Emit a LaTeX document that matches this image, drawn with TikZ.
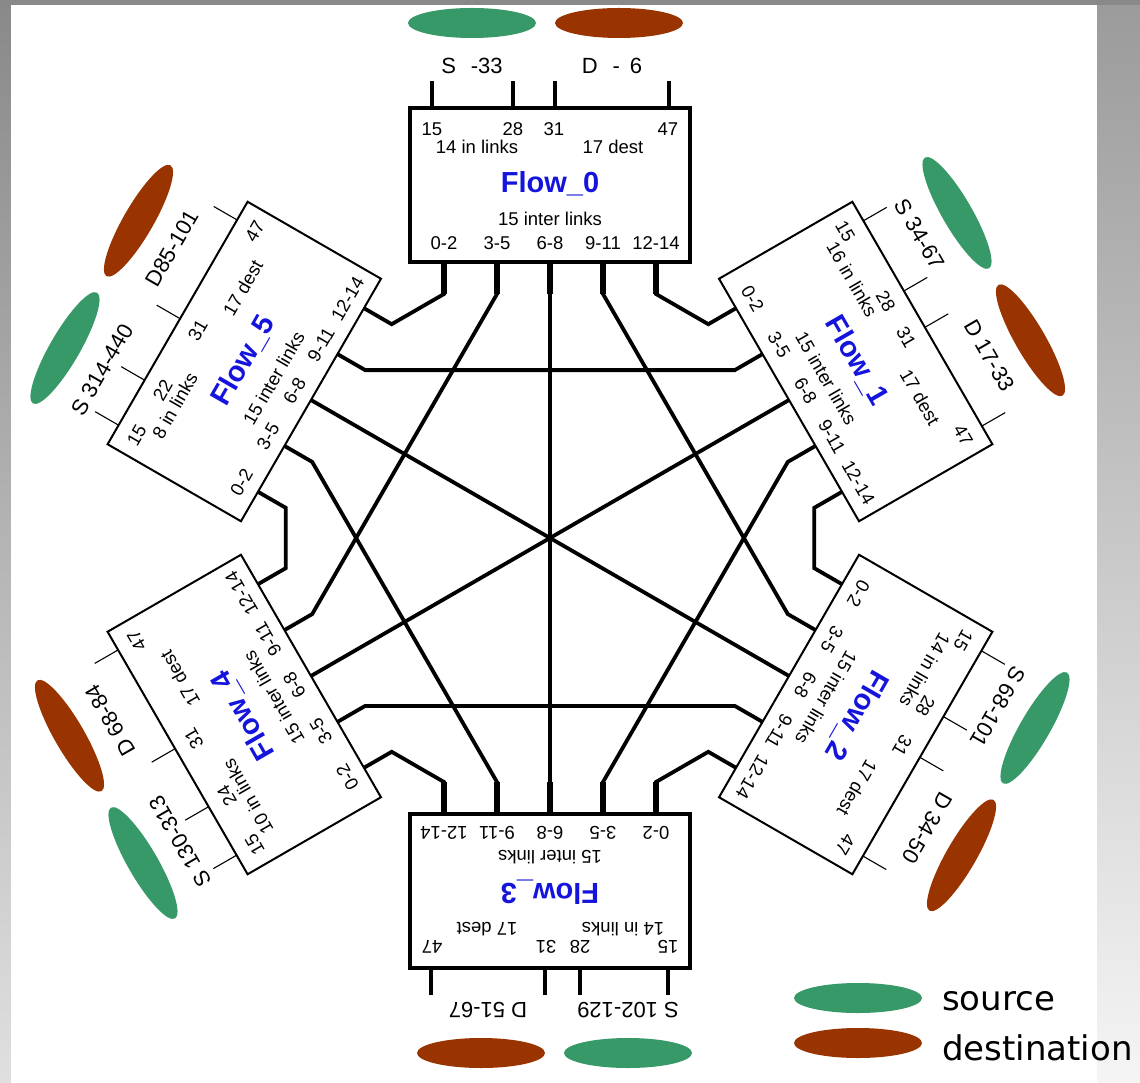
\documentclass[tikz,border=0pt]{standalone}
\usepackage{fontspec}
\setmainfont{Liberation Sans}
\newfontfamily\legendfont{DejaVu Sans}

\definecolor{srcgreen}{RGB}{55,152,104}
\definecolor{dstbrown}{RGB}{153,51,0}
\definecolor{flowblue}{RGB}{20,20,220}
\definecolor{rimgray}{RGB}{137,137,137}

\tikzset{
  box/.style={draw, fill=white, minimum width=280pt, minimum height=154pt, inner sep=0pt},
  frameheavy/.style={line width=4pt},
  framelight/.style={line width=2pt},
  tickheavy/.style={line width=4pt},
  ticklight/.style={line width=1.1pt},
  lbl/.style={font=\fontsize{18.5}{21}\selectfont, inner sep=0pt},
  ext/.style={font=\fontsize{22}{26}\selectfont, inner sep=0pt},
  flowname/.style={font=\fontsize{29}{33}\selectfont\bfseries, text=flowblue, inner sep=0pt},
  legend/.style={font=\legendfont\fontsize{34}{40}\selectfont, inner sep=0pt, anchor=west},
  link/.style={line width=3.8pt},
  stub/.style={line width=5.6pt},
}

% one flow block: #1 number, #2 angle, #3 in links, #4/#5 second tick label and x,
% #6 source range, #7 destination range, #8 heavy or light
\newcommand{\flow}[8]{%
  \begin{scope}[rotate=#2, shift={(0,353)}, every node/.append style={transform shape}]
    \fill[srcgreen] (-78,162) ellipse [x radius=64, y radius=15];
    \fill[dstbrown] (69,162) ellipse [x radius=64, y radius=15];
    \foreach \x in {-118,#5,5,119}
      \draw[tick#8] (\x,77) -- (\x,104);
    \node[box, frame#8] (f#1) at (0,0) {};
    \node[lbl] (f#1-a) at (-118,56) {15};
    \node[lbl] (f#1-b) at (#5,56) {#4};
    \node[lbl] (f#1-c) at (4,56) {31};
    \node[lbl] (f#1-d) at (118,56) {47};
    \node[lbl] (f#1-in) at (-73,38) {#3 in links};
    \node[lbl] (f#1-dest) at (63,38) {17 dest};
    \node[flowname] (f#1-name) at (0,1) {Flow\_#1};
    \node[lbl] (f#1-inter) at (0,-34) {15 inter links};
    \foreach \k/\x/\t in {0/-106/0-2, 1/-53/3-5, 2/0/6-8, 3/53/9-11, 4/106/12-14} {
      \node[lbl] (f#1-port\k) at (\x,-58) {\t};
      \coordinate (p#1-\k) at (\x,-77);
      \coordinate (s#1-\k) at (\x,-109);
    }
    \node[ext] (f#1-src) at (-78,119) {#6};
    \node[ext] (f#1-dst) at (62,119) {#7};
  \end{scope}}

\begin{document}
\begin{tikzpicture}[x=1pt, y=1pt]
  \useasboundingbox (-550,-544) rectangle (590,538);
  % page and grey rim
  \fill[white] (-550,-544) rectangle (590,538);
  \shade[top color=rimgray, bottom color=gray!25] (-550,-544) rectangle (-539,538);
  \shade[top color=rimgray!85, bottom color=gray!8] (547,-544) rectangle (590,538);
  \fill[rimgray] (-550,533) rectangle (590,538);

  \flow{0}{0}{14}{28}{-37}{S\hspace{15pt}-33}{D\hspace{15pt}-\hspace{10pt}6}{heavy}
  \flow{1}{-60}{16}{28}{-37}{S 34-67}{D 17-33}{light}
  \flow{2}{-120}{14}{28}{-42}{S 68-101}{D 34-50}{light}
  \flow{3}{180}{14}{28}{-30}{S 102-129}{D 51-67}{heavy}
  \flow{4}{120}{10}{24}{-62}{S 130-313}{D 68-84}{light}
  \flow{5}{60}{8}{22}{-66}{S 314-440}{D85-101}{light}

  % inter links: neighbours and next-but-one
  \foreach \i in {0,...,5} {
    \foreach \k in {3,4} {
      \pgfmathtruncatemacro\j{mod(\i+5-\k,6)}
      \pgfmathtruncatemacro\l{4-\k}
      \draw[link] (p\i-\k) -- (s\i-\k) -- (s\j-\l) -- (p\j-\l);
    }
  }
  % opposite blocks
  \foreach \i in {0,1,2} {
    \pgfmathtruncatemacro\j{\i+3}
    \draw[link] (p\i-2) -- (p\j-2);
  }
  \foreach \i in {0,3}
    \foreach \k in {0,...,4}
      \draw[stub] (p\i-\k) -- (s\i-\k);

  % legend
  \fill[srcgreen] (308,-460) ellipse [x radius=64, y radius=15];
  \fill[dstbrown] (308,-505) ellipse [x radius=64, y radius=15];
  \node[legend] (src) at (392,-463) {source};
  \node[legend] (dst) at (392,-510) {destination};
\end{tikzpicture}
\end{document}
